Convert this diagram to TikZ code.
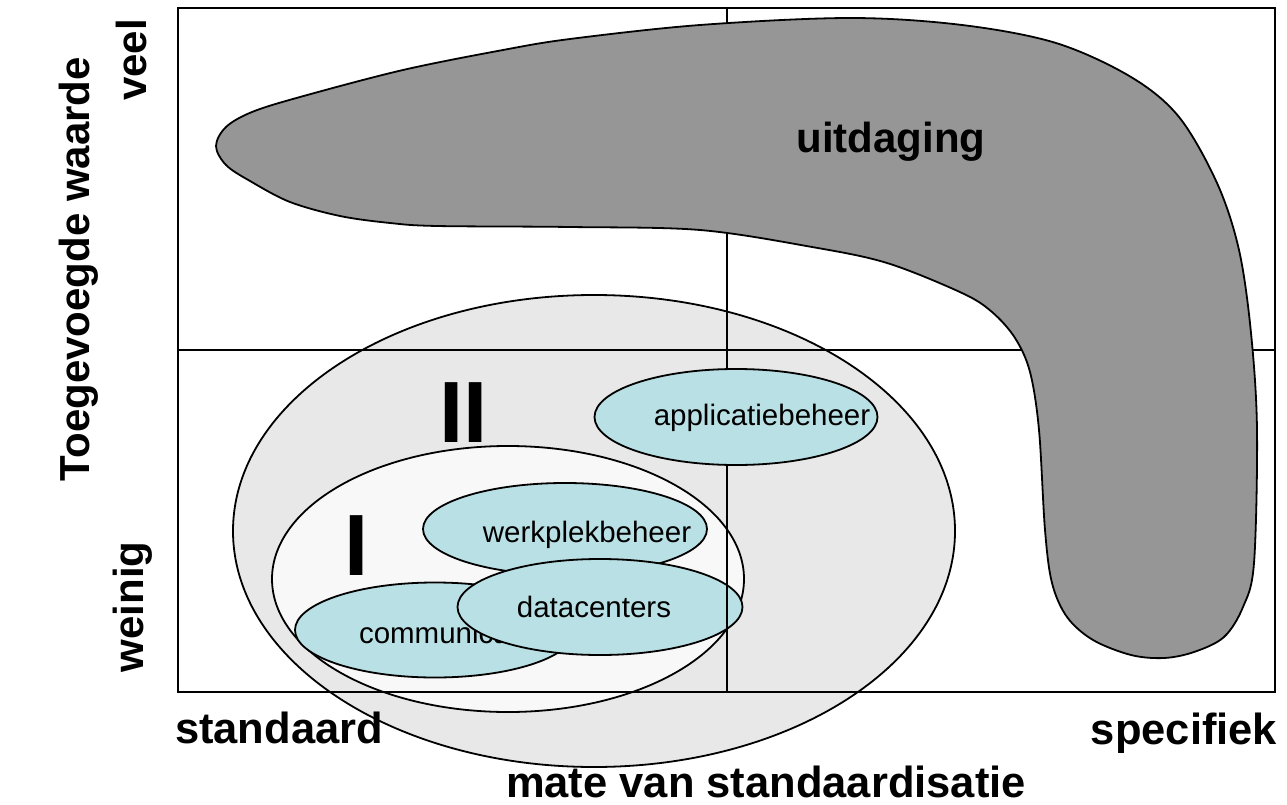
\documentclass[tikz,border=0pt]{standalone}
\usepackage{fontspec}
\setmainfont{Liberation Sans}
\usetikzlibrary{shapes.geometric}
\definecolor{ringII}{RGB}{232,232,232}
\definecolor{ringI}{RGB}{248,248,248}
\definecolor{cyanfill}{RGB}{185,224,228}
\definecolor{challenge}{RGB}{150,150,150}
\tikzset{
  outl/.style={draw=black, line width=1.8pt},
  blob/.style={ellipse, outl, fill=cyanfill, inner sep=0pt},
  small/.style={inner sep=0pt, font=\fontsize{29.5}{29.5}\selectfont},
  big/.style={inner sep=0pt, font=\fontsize{42}{42}\selectfont\bfseries},
  bigger/.style={inner sep=0pt, font=\fontsize{43.5}{43.5}\selectfont\bfseries},
  roman/.style={inner sep=0pt, font=\fontsize{87}{87}\selectfont\bfseries},
  gridline/.style={draw=black, line width=2pt},
}
\begin{document}
\begin{tikzpicture}[x=1pt,y=-1pt]
\useasboundingbox (0,0) rectangle (1287,805);
% ring II and ring I
\node[ellipse, outl, fill=ringII, minimum width=722, minimum height=472, inner sep=0pt] (ellII) at (594,531) {};
\node[ellipse, outl, fill=ringI, minimum width=472, minimum height=266, inner sep=0pt] (ellI) at (508,579) {};
% blobs inside ring I
\node[blob, minimum width=284, minimum height=92] (werk) at (565,529) {};
\node[small] (werkT) at (587,535) {werkplekbeheer};
\node[blob, minimum width=280, minimum height=95] (comm) at (435,630) {};
\node[small] (commT) at (450,633) {communicatie};
\node[blob, minimum width=285, minimum height=96] (data) at (600,607) {};
\node[small] (dataT) at (594,607) {datacenters};
% quadrant grid
\node[gridline, minimum width=1097, minimum height=684, inner sep=0pt] (box) at (726.5,350) {};
\draw[gridline] (box.north) -- (box.south);
\draw[gridline] (box.west) -- (box.east);
% applicatiebeheer
\node[blob, minimum width=283, minimum height=96] (appl) at (736,417) {};
\node[small] (applT) at (762,418) {applicatiebeheer};
% challenge shape
\draw[outl, fill=challenge] plot[smooth cycle, tension=0.55] coordinates {
 (216,146) (226,127) (252,112) (300,97) (403,70) (503,50) (570,39) (700,25) (850,18)
 (962,25) (1056,43) (1131,77) (1179,117) (1217,183) (1239,250) (1251,333)
 (1257,430) (1254,563) (1243,607) (1224,637) (1194,652) (1164,658) (1131,655)
 (1093,640) (1067,617) (1052,583) (1045,530) (1039,430) (1030,372) (1015,338)
 (992,312) (962,293) (887,263) (812,247) (700,230) (570,227) (437,226)
 (390,223) (340,216) (290,202) (250,181) (226,165)};
\node[big] (uit) at (891,142) {uitdaging};
% roman numerals
\node[roman] (romI) at (356.5,546) {I};
\node[roman] (romII) at (463.5,412.5) {II};
% axis labels
\node[big, rotate=90] (yax) at (79,269) {Toegevoegde waarde};
\node[big, rotate=90] (veel) at (131.5,60) {veel};
\node[big, rotate=90] (weinig) at (133,607) {weinig};
\node[bigger] (std) at (279,728) {standaard};
\node[bigger] (spec) at (1184,733) {specifiek};
\node[bigger] (xax) at (766,782) {mate van standaardisatie};
\end{tikzpicture}
\end{document}
